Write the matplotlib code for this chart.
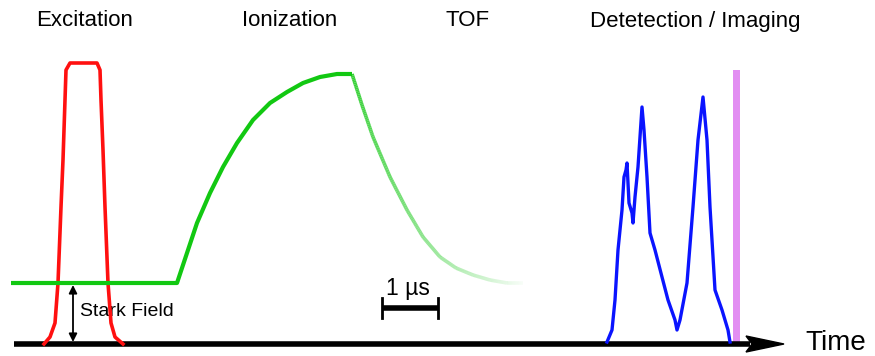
import numpy as np
import matplotlib
matplotlib.use("Agg")
import matplotlib.pyplot as plt
from matplotlib.collections import LineCollection
from matplotlib.colors import to_rgba

plt.rcParams['font.family'] = ['Liberation Sans', 'DejaVu Sans']

# Stage labels and their horizontal centres (in pixel-like units)
stage_labels = ["Excitation", "Ionization", "TOF", "Detetection / Imaging"]
stage_x = [85, 290, 468, 695]

# Excitation laser pulse (red)
pulse_x = [44, 50, 55, 58, 61, 63, 65, 66, 70, 97, 100, 101, 103, 105, 108, 111, 115, 123]
pulse_y = [344, 337, 323, 283, 207, 160, 100, 70, 63, 63, 70, 100, 150, 207, 283, 323, 337, 344]

# Electric field (green): flat Stark field, ionization ramp
field_x = [11, 177, 187, 197, 210, 223, 237, 253, 270, 287, 303, 320, 337, 352]
field_y = [283, 283, 253, 223, 193, 167, 143, 120, 103, 92, 83, 77, 74, 74]
# Field decay (fading)
decay_x = [352, 362, 373, 390, 407, 423, 440, 456, 473, 490, 507, 523]
decay_y = [74, 105, 137, 177, 210, 237, 257, 268, 275, 280, 283, 283]

# Detected signal (blue)
sig_x = [607, 612, 615, 618, 622, 624, 626, 627, 629, 632, 633, 635, 638, 642, 644, 647, 650, 655, 662,
         668, 675, 677, 680, 687, 693, 698, 703, 707, 710, 715, 722, 728, 730]
sig_y = [342, 330, 300, 250, 210, 177, 170, 163, 203, 213, 223, 197, 167, 107, 130, 177, 233, 250, 277,
         300, 320, 330, 320, 283, 207, 140, 97, 140, 207, 290, 310, 330, 342]

# Imaging gate (violet)
gate_x = [733, 740]
gate_y = [70, 344]

fig = plt.figure(figsize=(8.75, 3.56), dpi=100)
ax = fig.add_axes([0, 0, 1, 1])
ax.set_xlim(0, 875)
ax.set_ylim(356, 0)
ax.axis('off')

# baseline time axis with arrow
base_y = 344
ax.plot([14, 750], [base_y, base_y], color='black', lw=4, solid_capstyle='butt', zorder=3)
ax.fill([746, 784, 746, 752], [base_y - 8, base_y, base_y + 8, base_y], color='black', zorder=3)
ax.text(805, 350, "Time", fontsize=20, va='baseline', ha='left')

# gate
ax.fill_between(gate_x, [gate_y[0]] * 2, [gate_y[1]] * 2, color='#e28ef2', lw=0, zorder=2)

# pulse
ax.plot(pulse_x, pulse_y, color='#ff1010', lw=2.6, zorder=4, solid_joinstyle='round')

# field
green = '#12c812'
ax.plot(field_x, field_y, color=green, lw=3, zorder=4, solid_capstyle='butt', solid_joinstyle='round')
# fading decay drawn as a fine gradient along the read-off path
t = np.linspace(0, 1, 200)
xs = np.interp(t, np.linspace(0, 1, len(decay_x)), decay_x)
ys = np.interp(t, np.linspace(0, 1, len(decay_y)), decay_y)
pts = np.column_stack([xs, ys]).reshape(-1, 1, 2)
segs = np.concatenate([pts[:-1], pts[1:]], axis=1)
n = len(segs)
base = to_rgba(green)
cols = [(base[0], base[1], base[2], 0.85 - 0.82 * i / (n - 1)) for i in range(n)]
ax.add_collection(LineCollection(segs, colors=cols, linewidths=2.6, zorder=4, capstyle='butt'))

# signal
ax.plot(sig_x, sig_y, color='#0a14ff', lw=2.4, zorder=4, solid_joinstyle='round')

# Stark field arrow
ax.annotate('', xy=(73, 285), xytext=(73, 342),
            arrowprops=dict(arrowstyle='<|-|>', color='black', lw=1.3,
                            mutation_scale=12, shrinkA=0, shrinkB=0), zorder=5)
ax.text(80, 312, "Stark Field", fontsize=14, va='center', ha='left')

# scale bar 1 µs
ax.plot([382, 438], [308, 308], color='black', lw=4, solid_capstyle='butt')
ax.plot([382, 382], [298, 318], color='black', lw=2)
ax.plot([438, 438], [298, 318], color='black', lw=2)
ax.text(408, 289, "1 µs", fontsize=16.5, ha='center', va='center')

for lab, x in zip(stage_labels, stage_x):
    ax.text(x, 21, lab, fontsize=16, ha='center', va='center')

fig.savefig('out.png', dpi=100)
